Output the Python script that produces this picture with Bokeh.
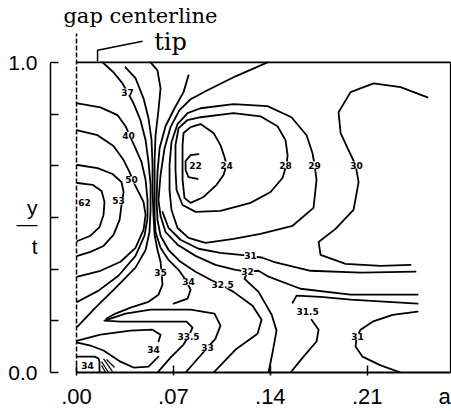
from bokeh.plotting import figure
from bokeh.models import FixedTicker, LabelSet, ColumnDataSource, Range1d
from bokeh.core.properties import value
from bokeh.embed import file_html
from bokeh.resources import INLINE

# ---------------- axes ----------------
x_ticks = [0.0, 0.07, 0.14, 0.21]
x_tick_labels = [".00", ".07", ".14", ".21"]
x_name_pos = 0.2659       # where the axis name "a" sits
x_name = "a"
y_major = [0.0, 1.0]
y_tick_labels = ["0.0", "1.0"]
y_minor = [0.0, 1 / 6, 2 / 6, 3 / 6, 4 / 6, 5 / 6, 1.0]
y_name_pos = [0.531, 0.482, 0.405]   # "y", fraction bar, "t"
y_name_text = ["y", "\u2014", "t"]
a_max = 0.2702          # right edge of the plotted domain
centerline_top = 1.093  # gap centerline drawn above the tip

# ---------------- contour lines (a, y/t) ----------------
line_62 = [(0.0007, 0.611), (0.0116, 0.605), (0.0181, 0.585), (0.0202, 0.550), (0.0195, 0.508),
           (0.0166, 0.469), (0.0101, 0.441), (0.0007, 0.424)]
line_53 = [(0.0007, 0.669), (0.0152, 0.659), (0.0260, 0.640), (0.0325, 0.614), (0.0340, 0.582),
           (0.0325, 0.540), (0.0311, 0.492), (0.0267, 0.444), (0.0195, 0.408), (0.0101, 0.389),
           (0.0007, 0.376)]
line_50 = [(0.0007, 0.781), (0.0152, 0.765), (0.0267, 0.730), (0.0340, 0.685), (0.0383, 0.646),
           (0.0412, 0.614), (0.0441, 0.588), (0.0484, 0.550), (0.0499, 0.508), (0.0484, 0.460),
           (0.0426, 0.402), (0.0318, 0.357), (0.0173, 0.328), (0.0007, 0.309)]
line_40 = [(0.0007, 0.868), (0.0173, 0.855), (0.0296, 0.830), (0.0354, 0.794), (0.0383, 0.765),
           (0.0419, 0.730), (0.0470, 0.678), (0.0499, 0.621), (0.0513, 0.556), (0.0513, 0.498),
           (0.0491, 0.441), (0.0426, 0.376), (0.0303, 0.312), (0.0159, 0.264), (0.0007, 0.228)]
line_37 = [(0.0188, 1.000), (0.0267, 0.968), (0.0332, 0.932), (0.0368, 0.904), (0.0412, 0.868),
           (0.0462, 0.814), (0.0499, 0.749), (0.0520, 0.678), (0.0535, 0.605), (0.0535, 0.524),
           (0.0527, 0.453), (0.0499, 0.395), (0.0426, 0.338), (0.0282, 0.273), (0.0137, 0.209),
           (0.0007, 0.148)]
line_35 = [(0.0354, 0.984), (0.0426, 0.949), (0.0484, 0.884), (0.0520, 0.820), (0.0542, 0.749),
           (0.0549, 0.669), (0.0549, 0.588), (0.0556, 0.508), (0.0564, 0.444), (0.0585, 0.395),
           (0.0607, 0.357), (0.0614, 0.322), (0.0621, 0.283), (0.0592, 0.251), (0.0520, 0.228),
           (0.0390, 0.209), (0.0282, 0.190), (0.0217, 0.174)]
line_34 = [(0.0535, 1.000), (0.0585, 0.974), (0.0607, 0.916), (0.0592, 0.846), (0.0571, 0.765),
           (0.0564, 0.685), (0.0564, 0.588), (0.0564, 0.508), (0.0571, 0.453), (0.0607, 0.402),
           (0.0665, 0.363), (0.0737, 0.331), (0.0788, 0.299), (0.0824, 0.267), (0.0802, 0.238),
           (0.0701, 0.222)]
line_325 = [(0.0809, 0.958), (0.0773, 0.904), (0.0708, 0.852), (0.0643, 0.794), (0.0600, 0.723),
            (0.0585, 0.646), (0.0578, 0.556), (0.0585, 0.492), (0.0607, 0.441), (0.0665, 0.395),
            (0.0751, 0.357), (0.0860, 0.325), (0.0968, 0.299), (0.1055, 0.280), (0.1134, 0.260),
            (0.1272, 0.215), (0.1337, 0.170), (0.1308, 0.125), (0.1149, 0.074), (0.0990, 0.000)]
line_32 = [(0.1380, 1.000), (0.1149, 0.955), (0.0932, 0.907), (0.0824, 0.881), (0.0744, 0.846),
           (0.0679, 0.791), (0.0636, 0.723), (0.0607, 0.637), (0.0592, 0.556), (0.0607, 0.505),
           (0.0643, 0.453), (0.0730, 0.412), (0.0860, 0.376), (0.1004, 0.347), (0.1149, 0.331),
           (0.1236, 0.325), (0.1315, 0.328), (0.1387, 0.309), (0.1618, 0.270), (0.1980, 0.251),
           (0.2464, 0.251)]
line_32_down = [(0.1236, 0.325), (0.1214, 0.302), (0.1315, 0.260), (0.1410, 0.186), (0.1445, 0.135),
                (0.1416, 0.064), (0.1387, 0.000)]
line_31 = [(0.0621, 0.518), (0.0665, 0.466), (0.0751, 0.428), (0.0881, 0.399), (0.1040, 0.386),
           (0.1185, 0.379), (0.1257, 0.376), (0.1344, 0.370), (0.1423, 0.357), (0.1691, 0.328),
           (0.2052, 0.322), (0.2449, 0.325)]
line_29 = [(0.0896, 0.852), (0.0802, 0.836), (0.0730, 0.801), (0.0686, 0.743), (0.0672, 0.669),
           (0.0672, 0.588), (0.0686, 0.524), (0.0730, 0.466), (0.0809, 0.434), (0.0932, 0.418),
           (0.1134, 0.431), (0.1329, 0.447), (0.1561, 0.473), (0.1712, 0.531), (0.1734, 0.621),
           (0.1720, 0.669), (0.1705, 0.707), (0.1662, 0.765), (0.1553, 0.823), (0.1380, 0.859),
           (0.1134, 0.865), (0.0896, 0.852)]
line_28 = [(0.0896, 0.823), (0.0802, 0.814), (0.0737, 0.788), (0.0715, 0.733), (0.0715, 0.653),
           (0.0723, 0.588), (0.0766, 0.540), (0.0860, 0.518), (0.1040, 0.521), (0.1257, 0.547),
           (0.1402, 0.582), (0.1488, 0.627), (0.1517, 0.669), (0.1525, 0.701), (0.1510, 0.749),
           (0.1452, 0.794), (0.1329, 0.826), (0.1134, 0.836), (0.0896, 0.823)]
line_24 = [(0.0773, 0.772), (0.0824, 0.791), (0.0896, 0.801), (0.0990, 0.772), (0.1040, 0.733),
           (0.1069, 0.695), (0.1084, 0.669), (0.1062, 0.637), (0.1012, 0.605), (0.0918, 0.566),
           (0.0824, 0.547), (0.0780, 0.563), (0.0766, 0.621), (0.0766, 0.685), (0.0766, 0.733),
           (0.0773, 0.772)]
line_22 = [(0.0881, 0.704), (0.0824, 0.701), (0.0788, 0.682), (0.0788, 0.653), (0.0809, 0.630),
           (0.0874, 0.624)]
line_30 = [(0.2536, 0.887), (0.2341, 0.920), (0.2146, 0.932), (0.1980, 0.904), (0.1893, 0.839),
           (0.1908, 0.772), (0.1965, 0.717), (0.2016, 0.669), (0.2038, 0.614), (0.2001, 0.524),
           (0.1871, 0.463), (0.1749, 0.421), (0.1763, 0.379), (0.1944, 0.350), (0.2197, 0.344),
           (0.2413, 0.347)]
line_hook = [(0.1561, 0.225), (0.1590, 0.248), (0.1763, 0.244), (0.1980, 0.235), (0.2464, 0.222)]
line_315 = [(0.1698, 0.170), (0.1749, 0.138), (0.1734, 0.100), (0.1640, 0.051), (0.1546, 0.000)]
line_31_low = [(0.2464, 0.196), (0.2283, 0.186), (0.2139, 0.164), (0.2052, 0.138), (0.2023, 0.113),
               (0.2016, 0.084), (0.2066, 0.051), (0.2197, 0.023), (0.2341, 0.000)]
line_33 = [(0.0788, 0.000), (0.0845, 0.029), (0.0903, 0.058), (0.0947, 0.080), (0.1004, 0.109),
           (0.1040, 0.151), (0.0997, 0.190), (0.0824, 0.203), (0.0535, 0.203), (0.0354, 0.190),
           (0.0202, 0.167), (0.0318, 0.164), (0.0607, 0.164), (0.0795, 0.164), (0.0838, 0.145),
           (0.0809, 0.116), (0.0773, 0.090), (0.0679, 0.048), (0.0585, 0.000)]
line_34_up = [(0.0007, 0.103), (0.0173, 0.122), (0.0390, 0.135), (0.0549, 0.138), (0.0607, 0.122),
              (0.0592, 0.100)]
line_34_low = [(0.0007, 0.096), (0.0101, 0.087), (0.0195, 0.071), (0.0318, 0.035), (0.0412, 0.016),
               (0.0520, 0.019), (0.0592, 0.051)]
line_box = [(0.0007, 0.051), (0.0130, 0.051), (0.0159, 0.045), (0.0166, 0.035), (0.0166, 0.000)]

hatch_a0 = [0.0181, 0.0181, 0.0195, 0.0217]
hatch_y0 = [0.035, 0.023, 0.045, 0.042]
hatch_a1 = [0.0231, 0.0210, 0.0260, 0.0275]
hatch_y1 = [0.000, 0.000, 0.003, 0.016]

leader_a = [0.0152, 0.0152, 0.0477]
leader_y = [1.003, 1.039, 1.068]

# contour value labels
label_text = ["37", "40", "50", "62", "53", "22", "24", "28", "29", "30", "35", "34", "32.5",
              "31", "32", "31.5", "31", "33", "33.5", "34", "34"]
label_a = [0.0368, 0.0376, 0.0397, 0.0058, 0.0303, 0.0860, 0.1084, 0.1510, 0.1720, 0.2023,
           0.0607, 0.0809, 0.1055, 0.1257, 0.1236, 0.1669, 0.2030, 0.0947, 0.0809, 0.0556, 0.0079]
label_y = [0.904, 0.765, 0.621, 0.547, 0.553, 0.666, 0.669, 0.669, 0.669, 0.669,
           0.322, 0.293, 0.283, 0.376, 0.325, 0.196, 0.116, 0.080, 0.116, 0.074, 0.023]

all_lines = [line_62, line_53, line_50, line_40, line_37, line_35, line_34, line_325, line_32,
             line_32_down, line_31, line_29, line_28, line_24, line_22, line_30, line_hook,
             line_315, line_31_low, line_33, line_34_up, line_34_low, line_box]

p = figure(width=451, height=411, x_range=Range1d(-0.0188, 0.2709), y_range=Range1d(0, 1.1994),
           output_backend="svg", toolbar_location=None,
           min_border_left=50, min_border_right=0, min_border_top=0, min_border_bottom=38)
p.grid.visible = False
p.outline_line_color = None
p.background_fill_color = "white"
p.border_fill_color = "white"

# x axis: visible tick marks are the minor ticks, the major ticks only carry the labels
xa = p.xaxis[0]
xa.ticker = FixedTicker(ticks=x_ticks + [x_name_pos], minor_ticks=x_ticks)
xa.major_label_overrides = dict(zip(x_ticks + [x_name_pos], x_tick_labels + [x_name]))
xa.bounds = (0, a_max)
xa.axis_line_width = 1.8
xa.axis_line_color = "black"
xa.major_tick_in = 0
xa.major_tick_out = 0
xa.minor_tick_in = 7
xa.minor_tick_out = 3
xa.minor_tick_line_width = 1.5
xa.minor_tick_line_color = "black"
xa.major_label_standoff = 8
xa.major_label_text_font = "Liberation Sans"
xa.major_label_text_font_size = "22px"
xa.major_label_text_color = "black"

# y axis
ya = p.yaxis[0]
ya.ticker = FixedTicker(ticks=y_major + y_name_pos, minor_ticks=y_minor)
ya.major_label_overrides = dict(zip(y_major + y_name_pos, y_tick_labels + y_name_text))
ya.bounds = (0, 1)
ya.axis_line_width = 1.5
ya.axis_line_color = "black"
ya.major_tick_in = 0
ya.major_tick_out = 0
ya.minor_tick_in = 8
ya.minor_tick_out = 0
ya.minor_tick_line_width = 1.5
ya.minor_tick_line_color = "black"
ya.major_label_standoff = 13
ya.major_label_text_font = "Liberation Sans"
ya.major_label_text_font_size = "21px"
ya.major_label_text_color = "black"

# frame lines
p.line([0, a_max], [1, 1], line_color="black", line_width=1.8)
p.line([a_max, a_max], [0, 1], line_color="black", line_width=1.3)
p.line([0, 0], [0, centerline_top], line_color="black", line_width=1.5, line_dash="5 2")
p.line(leader_a, leader_y, line_color="black", line_width=1.5)

# contours
p.multi_line(xs=[[q[0] for q in ln] for ln in all_lines],
             ys=[[q[1] for q in ln] for ln in all_lines],
             line_color="black", line_width=1.8, line_join="round", line_cap="round")
p.segment(x0=hatch_a0, y0=hatch_y0, x1=hatch_a1, y1=hatch_y1, line_color="black", line_width=1.2)

src = ColumnDataSource(dict(a=label_a, y=label_y, t=label_text))
p.add_layout(LabelSet(x="a", y="y", text="t", source=src, text_font=value("DejaVu Sans"),
                      text_font_size="9px", text_font_style="bold", text_align="center",
                      text_baseline="middle", background_fill_color="white", text_color="black"))

# titles
p.text(x=[0.0462], y=[1.148], text=["gap centerline"], text_font=value("DejaVu Serif"),
       text_font_size="21px", text_align="center", text_baseline="alphabetic", text_color="black")
p.text(x=[0.0679], y=[1.066], text=["tip"], text_font=value("DejaVu Serif"),
       text_font_size="24px", text_align="center", text_baseline="alphabetic", text_color="black")

open("out.html", "w").write(file_html(p, INLINE))
